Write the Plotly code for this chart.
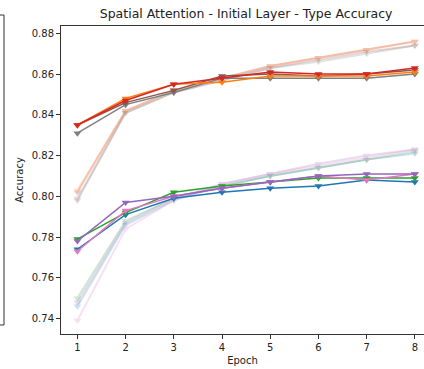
import plotly.graph_objects as go

epochs = [1, 2, 3, 4, 5, 6, 7, 8]

# upper group - solid
red_val = [0.835, 0.847, 0.855, 0.858, 0.861, 0.860, 0.860, 0.863]
orange_val = [0.835, 0.848, 0.855, 0.856, 0.859, 0.859, 0.859, 0.861]
brown_val = [0.835, 0.846, 0.852, 0.859, 0.860, 0.859, 0.860, 0.862]
gray_val = [0.831, 0.845, 0.851, 0.858, 0.858, 0.858, 0.858, 0.860]

# upper group - faded
red_train = [0.802, 0.842, 0.852, 0.858, 0.864, 0.868, 0.872, 0.876]
orange_train = [0.803, 0.842, 0.852, 0.858, 0.864, 0.868, 0.872, 0.876]
brown_train = [0.798, 0.841, 0.851, 0.857, 0.863, 0.867, 0.871, 0.874]
gray_train = [0.799, 0.841, 0.851, 0.857, 0.863, 0.866, 0.870, 0.874]

# lower group - solid
blue_val = [0.774, 0.791, 0.799, 0.802, 0.804, 0.805, 0.808, 0.807]
green_val = [0.779, 0.792, 0.802, 0.805, 0.807, 0.809, 0.809, 0.809]
purple_val = [0.778, 0.797, 0.800, 0.804, 0.807, 0.810, 0.811, 0.811]
pink_val = [0.773, 0.793, 0.800, 0.804, 0.807, 0.810, 0.808, 0.811]

# lower group - faded
green_train = [0.750, 0.788, 0.799, 0.805, 0.810, 0.814, 0.818, 0.822]
purple_train = [0.748, 0.787, 0.799, 0.806, 0.811, 0.816, 0.820, 0.823]
blue_train = [0.746, 0.786, 0.798, 0.805, 0.810, 0.814, 0.818, 0.821]
pink_train = [0.739, 0.784, 0.798, 0.806, 0.811, 0.815, 0.819, 0.823]

y_ticks = [0.74, 0.76, 0.78, 0.80, 0.82, 0.84, 0.86, 0.88]

C = dict(blue="#1f77b4", orange="#ff7f0e", green="#2ca02c", red="#d62728",
         purple="#9467bd", brown="#8c564b", pink="#e377c2", gray="#7f7f7f")

faded = [("red", red_train), ("orange", orange_train), ("brown", brown_train),
         ("gray", gray_train), ("green", green_train), ("purple", purple_train),
         ("blue", blue_train), ("pink", pink_train)]
solid = [("gray", gray_val), ("brown", brown_val), ("orange", orange_val),
         ("red", red_val), ("blue", blue_val), ("green", green_val),
         ("pink", pink_val), ("purple", purple_val)]

fig = go.Figure()
for name, vals in faded:
    fig.add_trace(go.Scatter(x=epochs, y=vals, mode="lines+markers", opacity=0.22,
                             line=dict(color=C[name], width=2),
                             marker=dict(symbol="triangle-down", size=7, color=C[name]),
                             showlegend=False, hoverinfo="skip"))
for name, vals in solid:
    fig.add_trace(go.Scatter(x=epochs, y=vals, mode="lines+markers",
                             line=dict(color=C[name], width=1.5),
                             marker=dict(symbol="triangle-down", size=7, color=C[name]),
                             showlegend=False, hoverinfo="skip"))

font = "DejaVu Sans"
fig.update_layout(
    width=424, height=369,
    margin=dict(l=61, r=0, t=26, b=35),
    paper_bgcolor="white", plot_bgcolor="white",
    font=dict(family=font, size=10, color="#222"),
    title=dict(text="Spatial Attention - Initial Layer - Type Accuracy",
               x=0.51, xref="paper", xanchor="center", y=1 - 14/369, yref="container",
               yanchor="middle", font=dict(size=12.5, color="#222")),
    xaxis=dict(range=[0.66, 8.19], tickvals=epochs, showgrid=False, zeroline=False,
               showline=True, mirror=True, linecolor="#333", linewidth=1,
               ticks="outside", ticklen=4, tickcolor="#333",
               title=dict(text="Epoch", standoff=4, font=dict(size=10))),
    yaxis=dict(range=[0.7324, 0.8836], tickvals=y_ticks,
               ticktext=[f"{v:.2f}" for v in y_ticks], showgrid=False, zeroline=False,
               showline=True, mirror=False, linecolor="#333", linewidth=1,
               ticks="outside", ticklen=4, tickcolor="#333",
               title=dict(text="Accuracy", standoff=6, font=dict(size=10))),
)

# edge of the neighbouring panel visible on the left
fig.add_shape(type="rect", xref="paper", yref="paper",
              x0=-0.25, x1=(4 - 61) / 363, y0=(334 - 325) / 308, y1=(334 - 15) / 308,
              line=dict(color="#333", width=1), fillcolor="rgba(0,0,0,0)")

fig.write_html("out.html", config={"displayModeBar": False},
               post_script="document.body.style.margin='0';document.body.style.overflow='hidden';")
